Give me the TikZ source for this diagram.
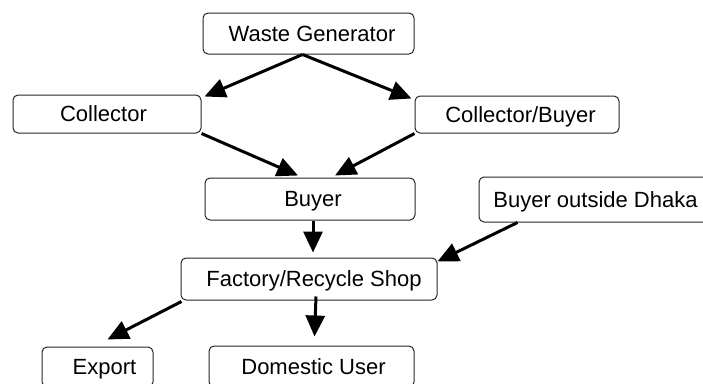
\documentclass[tikz,border=0pt]{standalone}
\usepackage{fontspec}
\setmainfont{Liberation Sans}
\usetikzlibrary{arrows.meta,calc}
\begin{document}
\begin{tikzpicture}[x=1pt,y=-1pt,
  box/.style={draw=black!85,line width=1pt,rounded corners=5pt,inner sep=0pt,
    text height=15.5pt,text depth=0pt,
    font=\fontsize{22}{26}\selectfont},
  flow/.style={line width=3pt,-{Triangle[length=21pt,width=19pt]}}]
\useasboundingbox (0,0) rectangle (703,383);
\clip (0,0) rectangle (703,383);

\node[box,minimum width=211pt,minimum height=41pt] (wg) at (308.5,33.5) {\hspace*{7pt}Waste Generator};
\node[box,minimum width=188pt,minimum height=38pt] (col) at (107,114) {Collector\hspace*{7pt}};
\node[box,minimum width=204pt,minimum height=37pt] (cb) at (517,114.5) {\hspace*{7pt}Collector/Buyer};
\node[box,minimum width=210pt,minimum height=42pt] (buy) at (310,199) {\hspace*{6pt}Buyer};
\node[box,minimum width=233pt,minimum height=45pt] (bod) at (595.5,199.5) {Buyer outside Dhaka};
\node[box,minimum width=256pt,minimum height=42pt] (fac) at (309,279) {\hspace*{10pt}Factory/Recycle Shop};
\node[box,minimum width=111pt,minimum height=40pt] (exp) at (97.5,367) {\hspace*{14pt}Export};
\node[box,minimum width=205pt,minimum height=41pt] (dom) at (311.5,366.5) {\hspace*{4pt}Domestic User};

\draw[flow] ([xshift=-6pt]wg.south) -- ([xshift=3pt,yshift=-2pt]col.north east);
\draw[flow] ([xshift=-6pt]wg.south) -- ([xshift=-3pt,yshift=-3pt]cb.north west);
\draw[flow] (col.south east) -- ([xshift=-12pt,yshift=2pt]buy.north);
\draw[flow] (cb.south west) -- ([xshift=25pt,yshift=2pt]buy.north);
\draw[flow] ([xshift=3pt]buy.south) -- ([xshift=4pt,yshift=5pt]fac.north);
\draw[flow] ([xshift=-78pt]bod.south) -- ([yshift=-4pt]fac.north east);
\draw[flow] ([xshift=1pt,yshift=-1pt]fac.south west) -- ([xshift=10pt,yshift=7pt]exp.north);
\draw[flow] ([xshift=7pt,yshift=4pt]fac.south) -- ([xshift=3pt,yshift=9pt]dom.north);
\end{tikzpicture}
\end{document}
